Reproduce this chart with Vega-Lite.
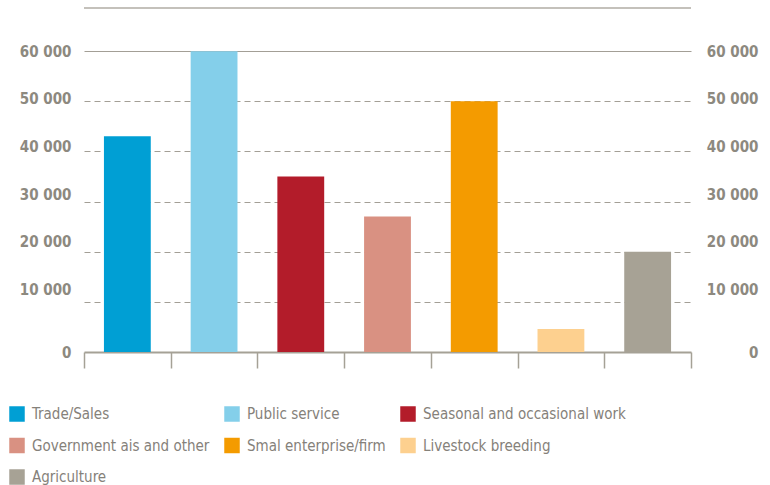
{
  "$schema": "https://vega.github.io/schema/vega-lite/v6.json",
  "width": 607,
  "height": 344,
  "autosize": {"type": "none"},
  "padding": {"left": 84, "top": 8, "right": 79, "bottom": 133},
  "background": "white",
  "config": {"view": {"stroke": null}, "font": "'DejaVu Sans Condensed', 'Roboto Condensed', Roboto, sans-serif"},
  "layer": [
    {
      "data": {
        "values": [
          {"category": "Trade/Sales", "value": 43000},
          {"category": "Public service", "value": 60000},
          {"category": "Seasonal and occasional work", "value": 35000},
          {"category": "Government ais and other", "value": 27000},
          {"category": "Smal enterprise/firm", "value": 50000},
          {"category": "Livestock breeding", "value": 4600},
          {"category": "Agriculture", "value": 20000}
        ]
      },
      "mark": {"type": "bar", "width": {"band": 0.54}},
      "encoding": {
        "x": {
          "field": "category",
          "type": "nominal",
          "sort": null,
          "scale": {"paddingInner": 0, "paddingOuter": 0},
          "axis": {
            "title": null,
            "labels": false,
            "tickBand": "extent",
            "domainColor": "#a5a196",
            "domainWidth": 2,
            "tickColor": "#a5a196",
            "tickSize": 16,
            "tickWidth": 1.5
          }
        },
        "y": {
          "field": "value",
          "type": "quantitative",
          "scale": {"domain": [0, 68600], "nice": false},
          "axis": {
            "title": null,
            "orient": "left",
            "values": [0, 10000, 20000, 30000, 40000, 50000, 60000],
            "domain": false,
            "ticks": false,
            "labelPadding": 13,
            "labelFont": "'DejaVu Sans Condensed', 'Roboto Condensed', Roboto, sans-serif",
            "labelFontSize": 15,
            "labelFontWeight": "bold",
            "labelColor": "#8d897f",
            "labelExpr": "replace(format(datum.value, ','), ',', ' ')",
            "labelOffset": {"expr": "datum.value == 0 ? 0 : -(60000 - datum.value) / 4000"},
            "grid": true,
            "gridColor": "#a39f96",
            "gridWidth": 1,
            "gridDash": {"expr": "datum.value == 60000 ? [] : [6, 4]"},
            "gridOpacity": {"expr": "datum.value == 0 ? 0 : 1"}
          }
        },
        "color": {
          "field": "category",
          "type": "nominal",
          "sort": null,
          "scale": {
            "domain": ["Trade/Sales", "Public service", "Seasonal and occasional work", "Government ais and other", "Smal enterprise/firm", "Livestock breeding", "Agriculture"],
            "range": ["#009fd4", "#84cfea", "#b31c2a", "#d99182", "#f49b00", "#fdd08f", "#a7a295"]
          },
          "legend": {
            "title": null,
            "orient": "none",
            "direction": "horizontal",
            "legendX": -75,
            "legendY": 398,
            "columns": 3,
            "gridAlign": "none",
            "columnPadding": 14,
            "rowPadding": 15.5,
            "padding": 0,
            "symbolType": "square",
            "symbolSize": 240,
            "symbolStrokeWidth": 0,
            "labelFont": "'DejaVu Sans Condensed', 'Roboto Condensed', Roboto, sans-serif",
            "labelFontSize": 15,
            "labelColor": "#85817a",
            "labelOffset": 7,
            "labelLimit": 300
          }
        }
      }
    },
    {
      "data": {"values": [{"note": "top rule"}]},
      "mark": {"type": "rule", "color": "#b0ada5", "strokeWidth": 1.5},
      "encoding": {
        "y": {
          "datum": 68600,
          "type": "quantitative",
          "axis": {
            "title": null,
            "orient": "right",
            "values": [0, 10000, 20000, 30000, 40000, 50000, 60000],
            "domain": false,
            "ticks": false,
            "grid": false,
            "labelAlign": "right",
            "labelPadding": 67,
            "labelFont": "'DejaVu Sans Condensed', 'Roboto Condensed', Roboto, sans-serif",
            "labelFontSize": 15,
            "labelFontWeight": "bold",
            "labelColor": "#8d897f",
            "labelExpr": "replace(format(datum.value, ','), ',', ' ')",
            "labelOffset": {"expr": "datum.value == 0 ? 0 : -(60000 - datum.value) / 4000"}
          }
        }
      }
    }
  ],
  "resolve": {"axis": {"y": "independent"}}
}
